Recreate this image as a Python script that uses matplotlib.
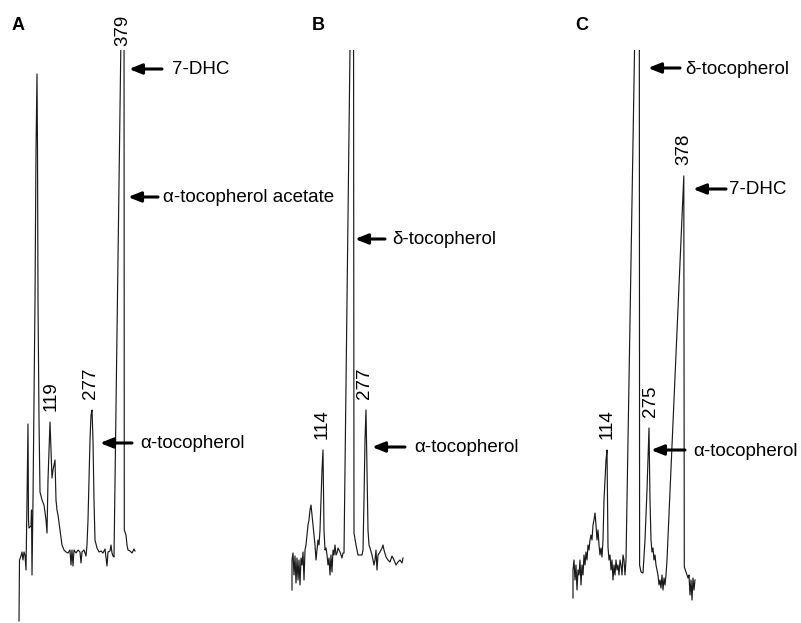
import numpy as np
import matplotlib.pyplot as plt

plt.rcParams['font.family'] = ['Liberation Sans', 'DejaVu Sans']

# HPLC traces: time (chart units) and detector response
a_time = [19, 19.5, 21, 22, 23, 24, 25, 26, 27, 28, 28.5, 29, 31, 31.5, 32, 33, 34, 35, 36, 37,
          37.5, 38, 39, 40, 42, 44, 46, 47, 48, 50, 51, 52, 53, 55, 56, 57, 58, 60, 62, 64,
          66, 68, 70, 71, 72, 73, 74, 76, 78, 80, 81, 82, 84, 86, 87, 88, 89, 90, 91, 92,
          93, 94, 95, 97, 99, 101, 103, 105, 107, 108, 110, 111, 112, 113, 114, 122.5, 124, 124.3, 126, 127,
          128, 130, 132, 134, 135]
a_resp = [2, 63, 67, 71, 63, 71, 68, 53, 123, 199, 103, 95, 97, 113, 48, 123, 223, 323, 473, 549,
          473, 323, 203, 131, 123, 118, 103, 90, 143, 201, 173, 145, 153, 163, 123, 113, 108, 93, 78, 73,
          71, 70, 73, 58, 73, 57, 73, 70, 73, 71, 60, 71, 73, 67, 78, 103, 143, 183, 208, 213,
          183, 123, 83, 75, 71, 72, 70, 74, 57, 71, 72, 78, 70, 67, 66, 700, 650, 93, 88, 78,
          73, 72, 70, 74, 72]

b_time = [22, 22] + list(range(23, 69)) + [70, 72, 73, 74, 81.5, 83.5, 84, 86, 88, 92, 93,
          94, 95, 96, 97, 98, 99, 100, 102, 104, 105, 106, 107, 108, 110, 112, 113, 114,
          116, 118, 120, 122, 124, 126, 128, 130, 132, 133]
b_resp = [33, 63,
          70, 48, 67, 40, 65, 43, 63, 38, 65, 58, 71, 43, 73, 78, 88, 98, 103, 113, 118, 108,
          98, 88, 78, 63, 73, 83, 78, 93, 123, 153, 173, 93, 73, 75, 68, 58, 65, 48, 68, 51,
          73, 68, 78, 68, 70, 75,
          71, 65, 70, 70, 700, 650, 90, 78, 68, 68, 73,
          123, 183, 213, 153, 93, 78, 75, 68, 58, 63, 73, 53, 68, 71, 75, 78, 73,
          66, 63, 61, 67, 63, 58, 61, 63, 60, 65]

c_time = [33, 33] + list(range(34, 87)) + [97, 99.3, 99.6, 101, 103, 105, 107, 109] + \
         list(range(110, 128)) + [143.8, 144.3, 146, 148, 149, 150, 151, 152, 153, 154, 155]
c_resp = [25, 53,
          63, 43, 58, 33, 53, 48, 63, 38, 58, 48, 68, 58, 71, 63, 78, 73, 83, 88, 83, 98,
          103, 110, 98, 83, 93, 78, 68, 75, 66, 83, 123, 143, 163, 173, 76, 63, 68, 53, 63, 43,
          58, 48, 63, 53, 58, 48, 63, 58, 48, 68, 63, 48, 63,
          720, 650, 58, 51, 50, 83, 133, 195,
          123, 83, 71, 75, 63, 68, 58, 53, 48, 38, 43, 35, 48, 33, 45, 38, 48, 63,
          447, 56, 51, 45, 48, 28, 43, 23, 45, 33, 43]

# labelled peaks (time, response at apex, label)
a_peaks = [(51, 201, '119'), (91, 213, '277')]
b_peaks = [(322, 173, '114'), (365, 213, '277')]
b_peaks = [(t - 270, r, s) for t, r, s in b_peaks]
c_peaks = [(67, 173, '114'), (110, 195, '275'), (143.5, 447, '378')]

# compound arrows: (response level, arrow tip, arrow tail, text start, name)
a_arrows = [(554, 129, 162, 172, '7-DHC'),
            (426, 128, 158, 163, 'α-tocopherol acetate'),
            (180, 100, 132, 140, 'α-tocopherol')]
b_arrows = [(384, 85, 115, 122, 'δ-tocopherol'),
            (176, 102, 135, 144, 'α-tocopherol')]
c_arrows = [(555, 108, 140, 145, 'δ-tocopherol'),
            (434, 153, 186, 189, '7-DHC'),
            (173, 111, 145, 153, 'α-tocopherol')]

W, H = 801, 623
top = 573  # response at top edge of chart paper

fig = plt.figure(figsize=(W / 100, H / 100), dpi=100)

panels = [
    ('A', 0, 270, a_time, a_resp, a_peaks, a_arrows, 18, (122.5, '379')),
    ('B', 270, 270, b_time, b_resp, b_peaks, b_arrows, 48, None),
    ('C', 540, 261, c_time, c_resp, c_peaks, c_arrows, 42, None),
]

for letter, x0, w, t, r, peaks, arrows, lx, toplabel in panels:
    ax = fig.add_axes([x0 / W, 0, w / W, top / H])
    ax.plot(t, r, color='#1a1a1a', lw=0.85)
    ax.set_xlim(0, w)
    ax.set_ylim(0, top)
    ax.axis('off')

    ax.text(lx, 598, letter, fontsize=13, fontweight='bold', ha='center', va='center')

    for pt, pr, s in peaks:
        ax.annotate(s, xy=(pt, pr), xytext=(0, 8), textcoords='offset points',
                    rotation=90, ha='center', va='bottom', fontsize=13.5,
                    annotation_clip=False)
    if toplabel is not None:
        ax.annotate(toplabel[1], xy=(toplabel[0], top), xytext=(0, 3),
                    textcoords='offset points', rotation=90, ha='center',
                    va='bottom', fontsize=13.5, annotation_clip=False)

    for yy, tip, tail, tx, name in arrows:
        ax.annotate('', xy=(tip, yy), xytext=(tail, yy),
                    arrowprops=dict(arrowstyle='-|>,head_length=0.75,head_width=0.3',
                                    lw=2.2, color='k', shrinkA=0, shrinkB=0,
                                    mutation_scale=10),
                    annotation_clip=False)
        ax.text(tx, yy - 1, name, fontsize=13.5, ha='left', va='center')

fig.savefig('out.png', dpi=100)
